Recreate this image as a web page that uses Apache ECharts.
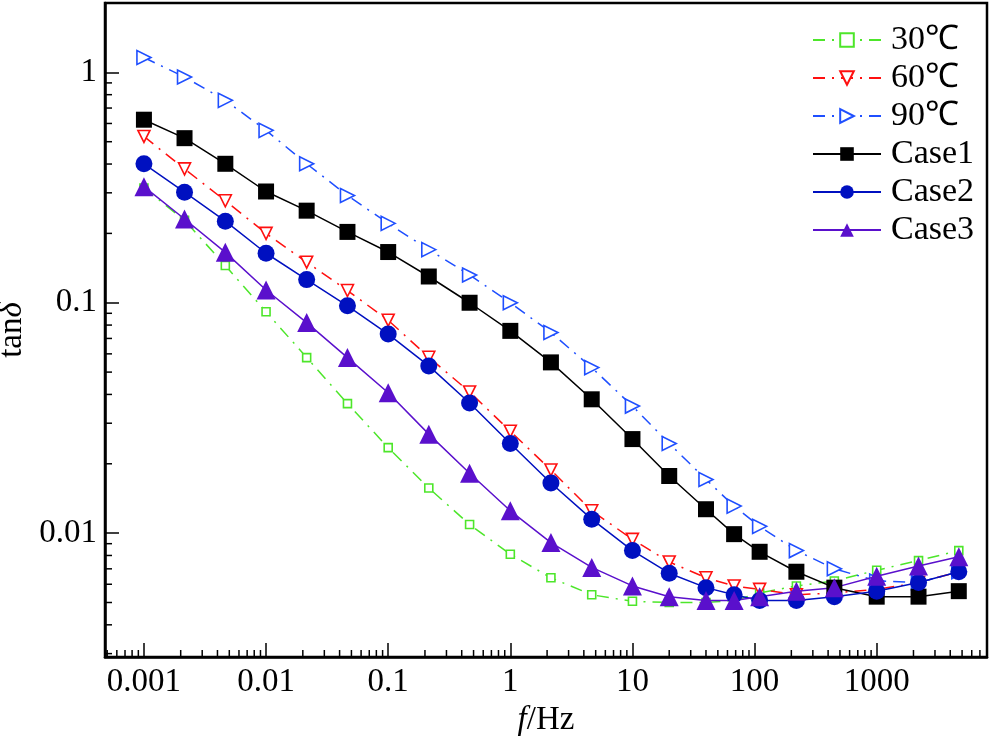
<!DOCTYPE html>
<html><head><meta charset="utf-8">
<script src="https://cdn.jsdelivr.net/npm/echarts@6/dist/echarts.min.js"></script>
<style>html,body{margin:0;padding:0;background:#fff}#c{width:993px;height:739px}</style>
</head><body><div id="c"></div>
<script>
// Frequencies (Hz)
const freq = [0.001, 0.00215, 0.00464, 0.01, 0.0215, 0.0464, 0.1, 0.215, 0.464, 1, 2.15, 4.64, 10, 20, 40, 68, 110, 220, 450, 1000, 2200, 4700];
// tan delta series
const t30 = [0.315, 0.228, 0.145, 0.0914, 0.0578, 0.0365, 0.0235, 0.0157, 0.0109, 0.0081, 0.0064, 0.0054, 0.00506, 0.0050, 0.0050, 0.0051, 0.0055, 0.0059, 0.0062, 0.0069, 0.0076, 0.0084];
const t60 = [0.527, 0.381, 0.277, 0.200, 0.150, 0.113, 0.084, 0.058, 0.041, 0.0277, 0.0188, 0.0125, 0.0094, 0.0075, 0.0064, 0.0059, 0.0057, 0.0054, 0.0055, 0.0057, 0.0061, 0.0068];
const t90 = [1.16, 0.954, 0.756, 0.56, 0.401, 0.292, 0.221, 0.170, 0.132, 0.100, 0.0743, 0.0523, 0.0356, 0.0245, 0.0171, 0.0131, 0.0107, 0.0084, 0.0070, 0.0062, 0.0061, 0.0068];
const case1 = [0.623, 0.518, 0.401, 0.304, 0.251, 0.203, 0.166, 0.130, 0.100, 0.0755, 0.0551, 0.0381, 0.0256, 0.0177, 0.0127, 0.0099, 0.0083, 0.0068, 0.0058, 0.0053, 0.0053, 0.0056];
const case2 = [0.401, 0.302, 0.226, 0.164, 0.126, 0.097, 0.0731, 0.0532, 0.0367, 0.0245, 0.0165, 0.0115, 0.0084, 0.0067, 0.0058, 0.0054, 0.0051, 0.0051, 0.0053, 0.0056, 0.0061, 0.0068];
const case3 = [0.319, 0.231, 0.1655, 0.1136, 0.082, 0.0578, 0.0407, 0.0269, 0.0182, 0.0125, 0.0091, 0.0071, 0.0059, 0.0053, 0.0051, 0.0051, 0.0053, 0.0056, 0.0058, 0.0065, 0.0072, 0.0079];
// Axis ticks and labels
const xMajorTicks = [0.001, 0.01, 0.1, 1, 10, 100, 1000];
const xTickLabels = ['0.001', '0.01', '0.1', '1', '10', '100', '1000'];
const yMajorTicks = [0.01, 0.1, 1];
const yTickLabels = ['0.01', '0.1', '1'];
const minorMultipliers = [2, 3, 4, 5, 6, 7, 8, 9];
const xDecades = [0.0001, 0.001, 0.01, 0.1, 1, 10, 100, 1000];
const yDecades = [0.001, 0.01, 0.1];
const seriesNames = ['30℃', '60℃', '90℃', 'Case1', 'Case2', 'Case3'];

const X_MIN = 0.00048, X_MAX = 8000, Y_MIN = 0.0029, Y_MAX = 2.0;
const FONT = 'Liberation Serif';
const FS = 33;

const xMinor = [];
xDecades.forEach(d => minorMultipliers.forEach(m => { const v = d * m; if (v > X_MIN && v < X_MAX) xMinor.push(v); }));
const yMinor = [];
yDecades.forEach(d => minorMultipliers.forEach(m => { const v = d * m; if (v > Y_MIN && v < Y_MAX) yMinor.push(v); }));

function labelFor(ticks, labels) {
  return v => {
    for (let i = 0; i < ticks.length; i++) {
      if (Math.abs(Math.log10(v) - Math.log10(ticks[i])) < 1e-6) return labels[i];
    }
    return '';
  };
}
function pairs(ys) { return freq.map((f, i) => [f, ys[i]]); }
function mk(name, ys, color, symbol, size, rotate, dashed) {
  return {
    name, type: 'line', data: pairs(ys), symbol, symbolSize: size, symbolRotate: rotate,
    lineStyle: { color, width: 1.5, type: dashed ? [12, 7, 2, 7] : 'solid' },
    itemStyle: dashed ? { color: '#fff', borderColor: color, borderWidth: 1.6 } : { color, borderWidth: 0 },
    emphasis: { disabled: true }, animation: false, z: dashed ? 2 : 3
  };
}

const chart = echarts.init(document.getElementById('c'), null, { renderer: 'canvas' });
chart.setOption({
  backgroundColor: '#fff',
  animation: false,
  grid: { left: 105, right: 6, top: 3, bottom: 82, show: true, borderColor: '#000', borderWidth: 2.5, backgroundColor: 'transparent', containLabel: false, outerBoundsMode: 'none' },
  legend: {
    data: seriesNames, orient: 'vertical', left: 812, top: 23, itemWidth: 68, itemHeight: 17, itemGap: 4, padding: 0,
    textStyle: { fontFamily: FONT, fontSize: FS + 1, color: '#000', padding: [0, 0, 0, 5], lineHeight: 34 }
  },
  xAxis: {
    type: 'log', min: X_MIN, max: X_MAX, logBase: 10,
    name: '{i|f}/Hz', nameLocation: 'middle', nameGap: 44,
    nameTextStyle: { fontFamily: FONT, fontSize: FS, color: '#000', rich: { i: { fontFamily: FONT, fontSize: FS, fontStyle: 'italic', color: '#000' } } },
    axisLine: { show: true, lineStyle: { color: '#000', width: 2.5 } },
    axisTick: { show: true, inside: true, length: 14, lineStyle: { color: '#000', width: 1.5 } },
    axisLabel: { formatter: labelFor(xMajorTicks, xTickLabels), fontFamily: FONT, fontSize: FS, color: '#000', margin: 9, showMinLabel: false, showMaxLabel: false },
    splitLine: { show: false }, minorTick: { show: false }
  },
  yAxis: {
    type: 'log', min: Y_MIN, max: Y_MAX, logBase: 10,
    name: 'tan{i|δ}', nameLocation: 'middle', nameGap: 66,
    nameTextStyle: { fontFamily: FONT, fontSize: FS, color: '#000', rich: { i: { fontFamily: FONT, fontSize: FS, fontStyle: 'italic', color: '#000' } } },
    axisLine: { show: true, lineStyle: { color: '#000', width: 2.5 } },
    axisTick: { show: true, inside: true, length: 14, lineStyle: { color: '#000', width: 1.5 } },
    axisLabel: { formatter: labelFor(yMajorTicks, yTickLabels), fontFamily: FONT, fontSize: FS, color: '#000', margin: 8, showMinLabel: false, showMaxLabel: false },
    splitLine: { show: false }, minorTick: { show: false }
  },
  series: [
    mk('30℃', t30, '#4de62a', 'rect', 8, 0, true),
    mk('60℃', t60, '#ff1010', 'triangle', 12, 180, true),
    mk('90℃', t90, '#1f4fff', 'triangle', 14, -90, true),
    mk('Case1', case1, '#000000', 'rect', 16, 0, false),
    mk('Case2', case2, '#0010c0', 'circle', 17, 0, false),
    mk('Case3', case3, '#5a10cc', 'triangle', 19, 0, false),
    {
      type: 'custom', silent: true, animation: false, z: 10, clip: false,
      data: xMinor.map(v => [v, Y_MIN]),
      renderItem(params, api) {
        const p = api.coord([api.value(0), api.value(1)]);
        return { type: 'line', shape: { x1: p[0], y1: p[1], x2: p[0], y2: p[1] - 7 }, style: { stroke: '#000', lineWidth: 1.5 } };
      }
    },
    {
      type: 'custom', silent: true, animation: false, z: 10, clip: false,
      data: yMinor.map(v => [X_MIN, v]),
      renderItem(params, api) {
        const p = api.coord([api.value(0), api.value(1)]);
        return { type: 'line', shape: { x1: p[0], y1: p[1], x2: p[0] + 7, y2: p[1] }, style: { stroke: '#000', lineWidth: 1.5 } };
      }
    }
  ]
});
</script></body></html>
